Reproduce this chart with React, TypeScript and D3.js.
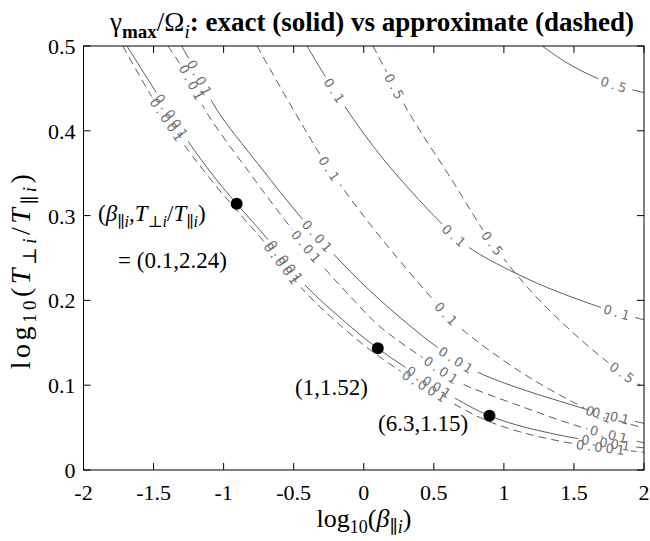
import { useEffect, useRef } from 'react'
import * as d3 from 'd3'

const W = 650
const H = 541
const M = { left: 83.5, right: 644, top: 46, bottom: 470 }

const xTicks = [-2, -1.5, -1, -0.5, 0, 0.5, 1, 1.5, 2]
const yTicks = [0, 0.1, 0.2, 0.3, 0.4, 0.5]

// contour lines: [log10(beta_par), log10(Tperp/Tpar)]
const exact001 = [[-1.69, 0.5], [-1.48, 0.445], [-1.26, 0.389], [-1.05, 0.342], [-0.907, 0.314], [-0.69, 0.273], [-0.43, 0.22], [-0.15, 0.177], [0.1, 0.1435], [0.47, 0.103], [0.897, 0.064], [1.4, 0.041], [2.0, 0.026]]
const approx001 = [[-1.72, 0.5], [-1.5, 0.437], [-1.27, 0.381], [-1.05, 0.334], [-0.9, 0.305], [-0.69, 0.265], [-0.43, 0.212], [-0.15, 0.168], [0.1, 0.135], [0.47, 0.095], [0.897, 0.057], [1.4, 0.034], [2.0, 0.021]]
const exact01 = [[-1.3, 0.5], [-1.19, 0.468], [-1.047, 0.4245], [-0.755, 0.361], [-0.433, 0.295], [-0.16, 0.245], [0.116, 0.2005], [0.523, 0.145], [0.78, 0.118], [1.08, 0.098], [1.401, 0.081], [1.687, 0.067], [2.0, 0.055]]
const approx01 = [[-1.397, 0.5], [-1.24, 0.46], [-1.119, 0.421], [-0.822, 0.352], [-0.526, 0.287], [-0.312, 0.244], [-0.098, 0.205], [0.116, 0.169], [0.559, 0.117], [0.687, 0.103], [1.116, 0.0755], [1.544, 0.051], [2.0, 0.032]]
const exact1 = [[-0.405, 0.5], [-0.205, 0.446], [0.116, 0.3715], [0.545, 0.2925], [0.737, 0.264], [1.187, 0.224], [1.687, 0.192], [2.0, 0.177]]
const approx1 = [[-0.762, 0.5], [-0.501, 0.4245], [-0.241, 0.354], [0.116, 0.275], [0.594, 0.183], [0.708, 0.165], [1.116, 0.116], [1.529, 0.077], [1.687, 0.065], [2.0, 0.0495]]
const exact5 = [[1.273, 0.5], [1.451, 0.48], [1.651, 0.463], [1.794, 0.454], [2.0, 0.445]]
const approx5 = [[0.066, 0.5], [0.331, 0.419], [0.616, 0.3455], [0.901, 0.271], [1.187, 0.212], [1.473, 0.165], [1.758, 0.125], [2.0, 0.097]]

// where the inline labels sit (log10 beta)
const labels001e = [-1.368, -0.555, 0.473, 1.737]
const labels001a = [-1.4, -0.58, 0.44, 1.7]
const labels01e = [-1.168, -0.326, 0.666, 1.772]
const labels01a = [-1.225, -0.405, 0.559, 1.758]
const labels1e = [-0.205, 0.651, 1.815]
const labels1a = [-0.241, 0.594, 1.687]
const labels5e = [1.794]
const labels5a = [0.223, 0.923, 1.851]

const markers = [[-0.907, 0.314], [0.1, 0.1435], [0.897, 0.064]]

const curves = [
  { level: '0.001', dashed: false, pts: exact001, labels: labels001e },
  { level: '0.001', dashed: true, pts: approx001, labels: labels001a },
  { level: '0.01', dashed: false, pts: exact01, labels: labels01e },
  { level: '0.01', dashed: true, pts: approx01, labels: labels01a },
  { level: '0.1', dashed: false, pts: exact1, labels: labels1e },
  { level: '0.1', dashed: true, pts: approx1, labels: labels1a },
  { level: '0.5', dashed: false, pts: exact5, labels: labels5e },
  { level: '0.5', dashed: true, pts: approx5, labels: labels5a },
]

type Seg = { t: string; sub?: boolean; it?: boolean; bold?: boolean; sym?: boolean }

// write mixed text (sub/italic) into a <text>
function rich(sel: any, segs: Seg[], size: number, subSize: number, shift: number) {
  let inSub = false
  segs.forEach((s) => {
    const ts = sel.append('tspan').text(s.t).attr('font-size', s.sub ? subSize : size)
    if (s.it) ts.attr('font-style', 'italic')
    if (s.sym) ts.style('font-family', "'DejaVu Serif', serif")
    if (s.bold !== undefined) ts.attr('font-weight', s.bold ? 'bold' : 'normal')
    if (s.sub && !inSub) ts.attr('dy', shift)
    if (!s.sub && inSub) ts.attr('dy', -shift)
    inSub = !!s.sub
  })
}

export default function App() {
  const ref = useRef<SVGSVGElement>(null)

  useEffect(() => {
    const svg = d3.select(ref.current)
    svg.selectAll('*').remove()

    const x = d3.scaleLinear().domain([-2, 2]).range([M.left, M.right])
    const y = d3.scaleLinear().domain([0, 0.5]).range([M.bottom, M.top])
    const serif = "'Liberation Serif', 'Times New Roman', serif"

    const defs = svg.append('defs')
    defs.append('clipPath').attr('id', 'plotclip').append('rect')
      .attr('x', M.left).attr('y', M.top)
      .attr('width', M.right - M.left).attr('height', M.bottom - M.top)

    const line = d3.line<number[]>()
      .x((d) => x(d[0]))
      .y((d) => y(d[1]))
      .curve(d3.curveCatmullRom.alpha(0.5))

    const g = svg.append('g').attr('clip-path', 'url(#plotclip)')
    const labG = svg.append('g')

    curves.forEach((c, i) => {
      const mask = defs.append('mask').attr('id', 'm' + i)
        .attr('maskUnits', 'userSpaceOnUse')
        .attr('x', 0).attr('y', 0).attr('width', W).attr('height', H)
      mask.append('rect').attr('width', W).attr('height', H).attr('fill', 'white')

      const path = g.append('path')
        .attr('d', line(c.pts))
        .attr('fill', 'none')
        .attr('stroke', '#333')
        .attr('stroke-width', 0.8)
        .attr('stroke-dasharray', c.dashed ? '8,5' : null)
        .attr('mask', `url(#m${i})`)
      const node = path.node() as SVGPathElement
      const L = node.getTotalLength()

      c.labels.forEach((lx) => {
        const px = x(lx)
        let lo = 0
        let hi = L
        for (let k = 0; k < 40; k++) {
          const mid = (lo + hi) / 2
          if (node.getPointAtLength(mid).x < px) lo = mid
          else hi = mid
        }
        const p = node.getPointAtLength(lo)
        const a = node.getPointAtLength(Math.max(0, lo - 4))
        const b = node.getPointAtLength(Math.min(L, lo + 4))
        const ang = (Math.atan2(b.y - a.y, b.x - a.x) * 180) / Math.PI
        const tr = `translate(${p.x},${p.y}) rotate(${ang})`
        const t = labG.append('text')
          .attr('transform', tr)
          .attr('text-anchor', 'middle')
          .attr('dy', '0.36em')
          .attr('font-family', "'DejaVu Sans', sans-serif")
          .attr('font-size', 13)
          .attr('letter-spacing', 3)
          .attr('fill', '#707070')
          .text(c.level)
        const w = (t.node() as SVGTextElement).getComputedTextLength()
        mask.append('rect')
          .attr('transform', tr)
          .attr('x', -w / 2 - 3).attr('y', -6)
          .attr('width', w + 6).attr('height', 12)
          .attr('fill', 'black')
      })
    })

    // dots
    svg.append('g').selectAll('circle').data(markers).join('circle')
      .attr('cx', (d) => x(d[0])).attr('cy', (d) => y(d[1]))
      .attr('r', 6).attr('fill', '#000')

    // frame + inward ticks
    const ax = svg.append('g').attr('stroke', '#000').attr('stroke-width', 1).attr('fill', 'none')
    ax.append('rect').attr('x', M.left).attr('y', M.top)
      .attr('width', M.right - M.left).attr('height', M.bottom - M.top)
    xTicks.forEach((v) => {
      ax.append('line').attr('x1', x(v)).attr('x2', x(v)).attr('y1', M.bottom).attr('y2', M.bottom - 7)
      ax.append('line').attr('x1', x(v)).attr('x2', x(v)).attr('y1', M.top).attr('y2', M.top + 7)
    })
    yTicks.forEach((v) => {
      ax.append('line').attr('x1', M.left).attr('x2', M.left + 7).attr('y1', y(v)).attr('y2', y(v))
      ax.append('line').attr('x1', M.right).attr('x2', M.right - 7).attr('y1', y(v)).attr('y2', y(v))
    })

    const txt = svg.append('g').style('font-family', serif).attr('fill', '#000')
    txt.selectAll('text.xt').data(xTicks).join('text').attr('class', 'xt')
      .attr('x', (d) => x(d)).attr('y', 500)
      .attr('text-anchor', 'middle').attr('font-size', 22)
      .text((d) => String(d))
    txt.selectAll('text.yt').data(yTicks).join('text').attr('class', 'yt')
      .attr('x', M.left - 8).attr('y', (d) => y(d) + 8)
      .attr('text-anchor', 'end').attr('font-size', 22)
      .text((d) => String(d))

    // title
    const title = txt.append('text').attr('x', 372).attr('y', 31)
      .attr('text-anchor', 'middle').attr('font-weight', 'bold')
    rich(title, [
      { t: 'γ', bold: false },
      { t: 'max', sub: true, bold: true },
      { t: '/Ω', bold: false },
      { t: 'i', sub: true, it: true, bold: false },
      { t: ': exact (solid) vs approximate (dashed)', bold: true },
    ], 27, 19, 7)

    // axis labels
    const xl = txt.append('text').attr('x', 364).attr('y', 527).attr('text-anchor', 'middle')
    rich(xl, [
      { t: 'log' }, { t: '10', sub: true }, { t: '(' }, { t: 'β', it: true },
      { t: '∥', sub: true, sym: true }, { t: 'i', sub: true, it: true }, { t: ')' },
    ], 26, 18, 6)

    const yl = txt.append('text').attr('transform', 'translate(30,270) rotate(-90)')
      .attr('text-anchor', 'middle').attr('letter-spacing', 3.5)
    rich(yl, [
      { t: 'log' }, { t: '10', sub: true }, { t: '(' }, { t: 'T', it: true },
      { t: '⊥', sub: true, sym: true }, { t: 'i', sub: true, it: true }, { t: '/' }, { t: 'T', it: true },
      { t: '∥', sub: true, sym: true }, { t: 'i', sub: true, it: true }, { t: ')' },
    ], 28, 19, 6)

    // annotations
    const a1 = txt.append('text').attr('x', 98).attr('y', 221)
    rich(a1, [
      { t: '(' }, { t: 'β', it: true }, { t: '∥', sub: true, sym: true }, { t: 'i', sub: true, it: true },
      { t: ',' }, { t: 'T', it: true }, { t: '⊥', sub: true, sym: true }, { t: 'i', sub: true, it: true },
      { t: '/' }, { t: 'T', it: true }, { t: '∥', sub: true, sym: true }, { t: 'i', sub: true, it: true }, { t: ')' },
    ], 23, 16, 6)
    txt.append('text').attr('x', 118).attr('y', 268).attr('font-size', 23).text('= (0.1,2.24)')
    txt.append('text').attr('x', 295).attr('y', 395).attr('font-size', 23).text('(1,1.52)')
    txt.append('text').attr('x', 378).attr('y', 431).attr('font-size', 23).text('(6.3,1.15)')
  }, [])

  return (
    <svg
      ref={ref}
      width={W}
      height={H}
      style={{ position: 'fixed', left: 0, top: 0, background: '#fff' }}
    />
  )
}
